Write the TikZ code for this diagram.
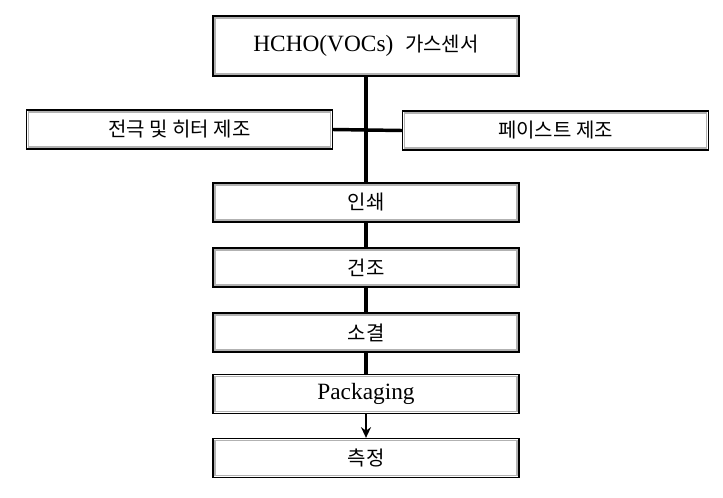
\documentclass[tikz,border=0pt]{standalone}
\usepackage{fontspec}
\setmainfont{Liberation Serif}
\newfontfamily\kr{Noto Sans CJK KR}
\usetikzlibrary{arrows.meta}
\begin{document}
\begin{tikzpicture}[x=0.75pt,y=-0.75pt,
  boxstyle/.style={draw=black, line width=1pt,
    fill=white, minimum width=229.5pt, minimum height=29.25pt, inner sep=0pt,
    font=\fontsize{17.5}{20}\selectfont,
    path picture={\draw[gray!60, line width=1.2pt]
      ([xshift=1.4pt,yshift=-1.4pt]path picture bounding box.north west) rectangle
      ([xshift=-1.4pt,yshift=1.4pt]path picture bounding box.south east);}},
  kor/.style={font=\fontsize{15}{18}\selectfont\kr},
  conn/.style={line width=2.6pt, black}]
\useasboundingbox (0,0) rectangle (723,497);
\node[boxstyle, minimum height=45pt] (top) at (366,46) {HCHO(VOCs)\ \ {\fontsize{15}{18}\selectfont\kr 가스센서}};
\node[boxstyle, kor] (left) at (179.5,129.5) {전극 및 히터 제조};
\node[boxstyle, kor] (right) at (555.5,130.5) {페이스트 제조};
\node[boxstyle, kor] (print) at (366,202.5) {인쇄};
\node[boxstyle, kor] (dry) at (366,267.5) {건조};
\node[boxstyle, kor] (sinter) at (366,332.5) {소결};
\node[boxstyle] (pack) at (366,394) {Packaging};
\node[boxstyle, kor] (meas) at (366,458) {측정};
\draw[conn] (left.east) -- (right.west);
\draw[conn] (top.south) -- (print.north);
\draw[conn] (print.south) -- (dry.north);
\draw[conn] (dry.south) -- (sinter.north);
\draw[conn] (sinter.south) -- (pack.north);
\draw[line width=2pt, -{Stealth[length=8pt,width=7.5pt]}] (pack.south) -- (meas.north);
\end{tikzpicture}
\end{document}
